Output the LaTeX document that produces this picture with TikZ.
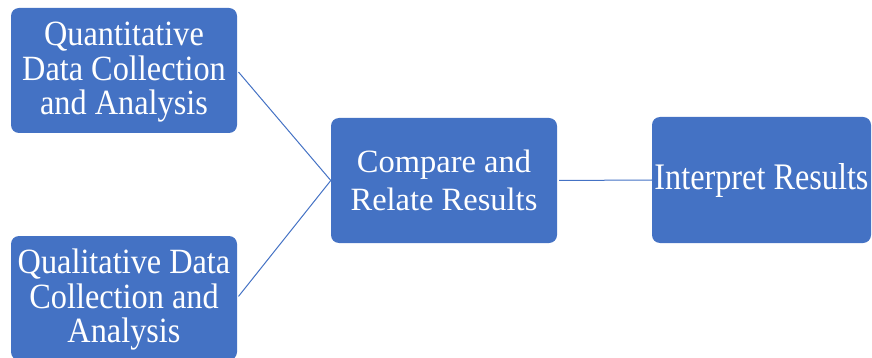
\documentclass[tikz,border=0pt]{standalone}
\usepackage{fontspec}
\setmainfont{Liberation Serif}
\newfontfamily\tallserif[FakeStretch=0.91]{Liberation Serif}
\newfontfamily\narrowserif[FakeStretch=0.86]{Liberation Serif}
\definecolor{boxblue}{HTML}{4472C4}
\begin{document}
\begin{tikzpicture}[x=1pt,y=-1pt,
  stage/.style={fill=boxblue, draw=none, rounded corners=8pt, text=white,
    align=center, inner sep=0pt, minimum width=226pt, minimum height=125pt},
  sidetext/.style={font=\tallserif\fontsize{35.5}{34.5}\selectfont},
  link/.style={draw=boxblue, line width=1pt}]
  \useasboundingbox (0,0) rectangle (872,358);
  \begin{scope}
    \clip (0,0) rectangle (872,358);
    % input stages on the left
    \node[stage] (quant) at (124,70.5) {};
    \node[sidetext, text=white, align=center] (quanttext) at (124,72.5)
      {Quantitative\\Data Collection\\and Analysis};
    \node[stage, minimum height=124pt] (qual) at (124,298) {};
    \node[sidetext, text=white, align=center] (qualtext) at (124,300)
      {Qualitative Data\\Collection and\\Analysis};
    % merging and interpretation stages
    \node[stage, font=\fontsize{32.5}{38}\selectfont] (comp) at (444,180.5)
      {Compare and\\Relate Results};
    \node[stage, minimum width=219pt, minimum height=126pt,
      font=\narrowserif\fontsize{37.5}{40}\selectfont] (interp) at (761.5,180)
      {Interpret Results};
  \end{scope}
  \draw[link, shorten <=2pt] (quant.east) -- (comp.west);
  \draw[link, shorten <=2pt] (qual.east) -- (comp.west);
  \draw[link, shorten <=2pt] (comp.east) -- (interp.west);
\end{tikzpicture}
\end{document}
